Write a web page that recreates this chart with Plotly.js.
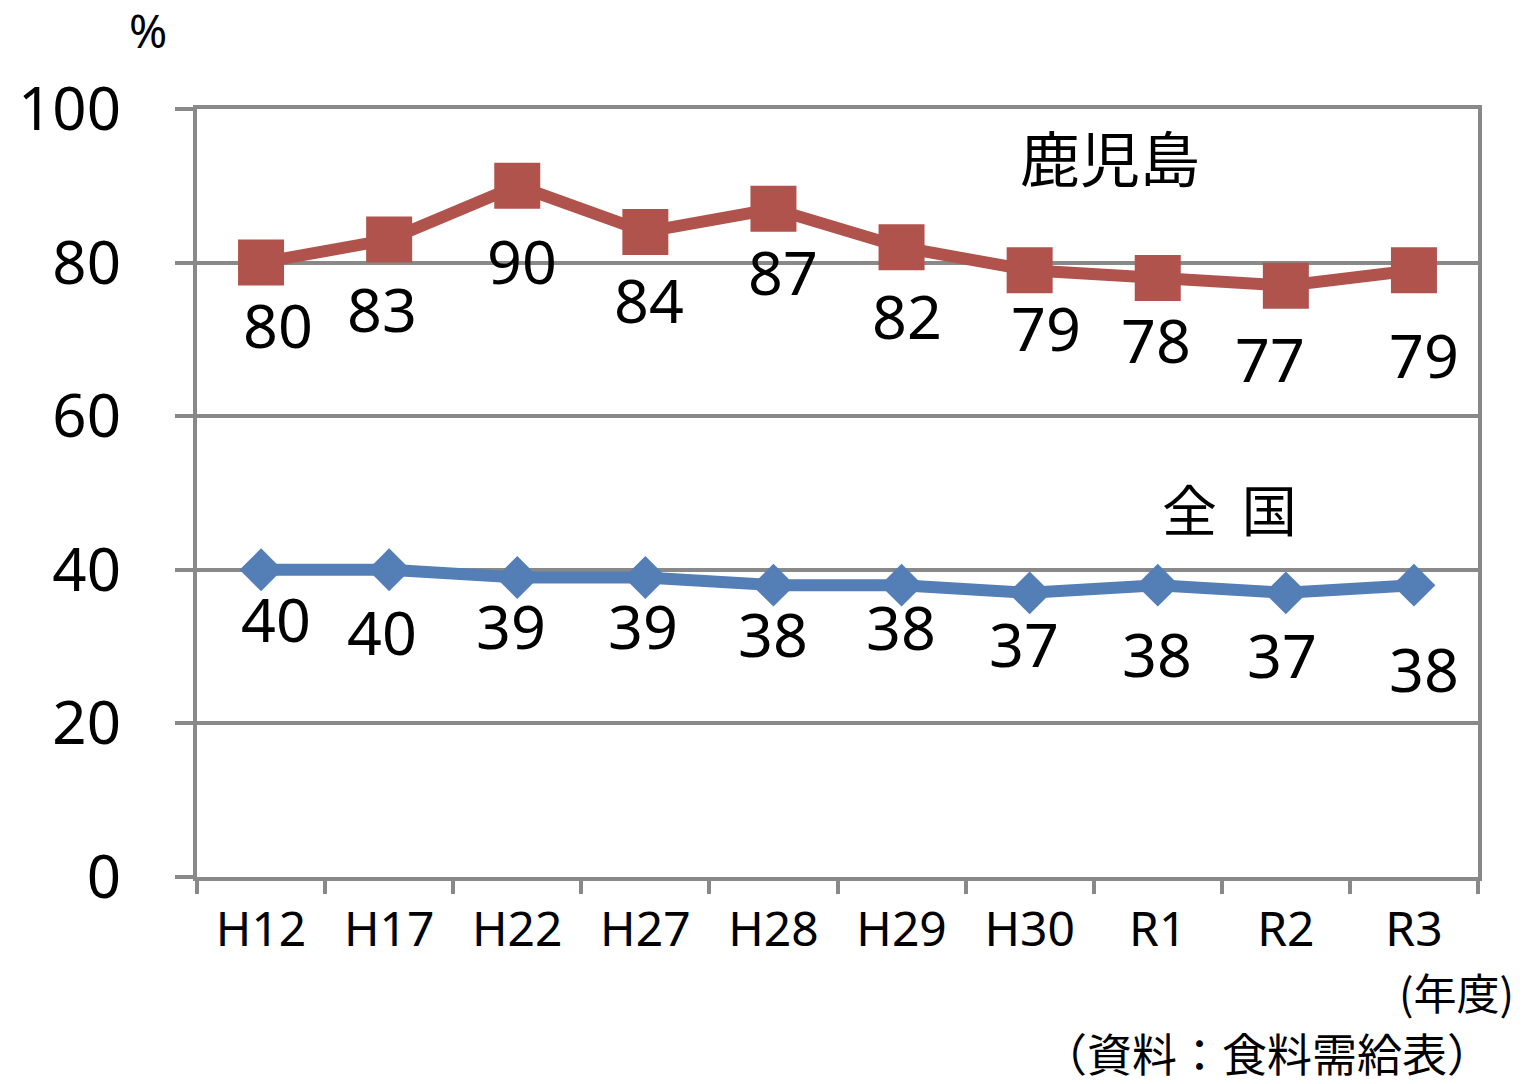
<!DOCTYPE html>
<html>
<head>
<meta charset="utf-8">
<script src="https://cdn.plot.ly/plotly-3.0.1.min.js"></script>
<style>
  html, body { margin: 0; padding: 0; background: #ffffff; }
  #chart { width: 1524px; height: 1084px; }
</style>
</head>
<body>
<div id="chart"></div>
<script>
// ---- Data ----
const categories = ["H12", "H17", "H22", "H27", "H28", "H29", "H30", "R1", "R2", "R3"];
const tickLabels = ["H12", "H17", "H22", "H27", "H28", "H29", "H30", "R1", "R2", "R3"];
const kagoshima = [80, 83, 90, 84, 87, 82, 79, 78, 77, 79];
const national = [40, 40, 39, 39, 38, 38, 37, 38, 37, 38];
const seriesNames = ["鹿児島", "全　国"];

// ---- Label offsets (pixels; dx right, dy down) ----
const kagoOffsets = [[17, 65], [-7, 72], [5, 78], [4, 71], [10, 66], [5, 71], [16, 60], [-2, 65], [-16, 76], [10, 87]];
const natOffsets = [[15, 52], [-7, 65], [-6, 51], [-2, 51], [0, 51], [-1, 44], [-6, 54], [-1, 71], [-4, 65], [10, 86]];

const FONT = "'Noto Sans', 'Noto Sans CJK JP', sans-serif";
const JFONT = "'Noto Sans CJK JP', 'Noto Sans', sans-serif";
const GRID = "#898989";
const RED = "#B1534D";
const BLUE = "#547EB6";

const traces = [
  {
    x: categories, y: kagoshima, type: "scatter", mode: "lines+markers",
    name: seriesNames[0],
    line: { color: RED, width: 12 },
    marker: { symbol: "square", size: 46, color: RED, line: { width: 0 } },
    hoverinfo: "skip"
  },
  {
    x: categories, y: national, type: "scatter", mode: "lines+markers",
    name: seriesNames[1],
    line: { color: BLUE, width: 12 },
    marker: { symbol: "diamond", size: 33, color: BLUE, line: { width: 0 } },
    hoverinfo: "skip"
  }
];

const annotations = [];
const LABEL_ADJ = 3;
function addLabels(values, offsets) {
  values.forEach((v, i) => {
    annotations.push({
      x: categories[i], y: v, xref: "x", yref: "y",
      text: String(v), showarrow: false,
      xanchor: "center", yanchor: "middle",
      xshift: offsets[i][0], yshift: -offsets[i][1] + LABEL_ADJ,
      font: { family: FONT, size: 61, color: "#000000" }
    });
  });
}
addLabels(kagoshima, kagoOffsets);
addLabels(national, natOffsets);

annotations.push(
  { x: 0.713, y: 0.94, xref: "paper", yref: "paper", text: seriesNames[0], showarrow: false,
    xanchor: "center", yanchor: "middle", font: { family: JFONT, size: 60, color: "#000" } },
  { x: 0.806, y: 0.482, xref: "paper", yref: "paper", text: seriesNames[1].replace("　", "\u00A0\u00A0"), showarrow: false,
    xanchor: "center", yanchor: "middle", font: { family: JFONT, size: 55, color: "#000" } },
  { x: -0.038, y: 1.103, xref: "paper", yref: "paper", text: "%", showarrow: false,
    xanchor: "center", yanchor: "middle", font: { family: FONT, size: 46, color: "#000" } },
  { x: 0.983, y: -0.148, xref: "paper", yref: "paper", text: "(年度)", showarrow: false,
    xanchor: "center", yanchor: "middle", font: { family: JFONT, size: 43, color: "#000" } },
  { x: 0.835, y: -0.228, xref: "paper", yref: "paper", text: "（資料：食料需給表）", showarrow: false,
    xanchor: "center", yanchor: "middle", font: { family: JFONT, size: 45, color: "#000" } }
);

const layout = {
  width: 1524, height: 1084,
  margin: { l: 197, r: 46, t: 109, b: 207, pad: 0 },
  paper_bgcolor: "#ffffff", plot_bgcolor: "#ffffff",
  showlegend: false,
  xaxis: {
    type: "category", range: [-0.5, 9.5],
    tickvals: categories, ticktext: tickLabels,
    tickson: "boundaries",
    ticks: "outside", ticklen: 13, tickwidth: 4, tickcolor: GRID,
    showline: true, linecolor: GRID, linewidth: 4, mirror: true,
    showgrid: false, zeroline: false,
    tickfont: { family: FONT, size: 48, color: "#000" },
    ticklabelstandoff: 7,
    fixedrange: true
  },
  yaxis: {
    range: [0, 100], tickvals: [0, 20, 40, 60, 80, 100],
    ticktext: ["0", "20", "40", "60", "80", "100"],
    ticks: "outside", ticklen: 18, tickwidth: 4, tickcolor: GRID,
    showline: true, linecolor: GRID, linewidth: 4, mirror: true,
    showgrid: true, gridcolor: GRID, gridwidth: 4, zeroline: false,
    tickfont: { family: FONT, size: 60, color: "#000" },
    ticklabelstandoff: 42,
    fixedrange: true
  },
  annotations: annotations
};

Plotly.newPlot("chart", traces, layout, { staticPlot: true, displayModeBar: false });
</script>
</body>
</html>
